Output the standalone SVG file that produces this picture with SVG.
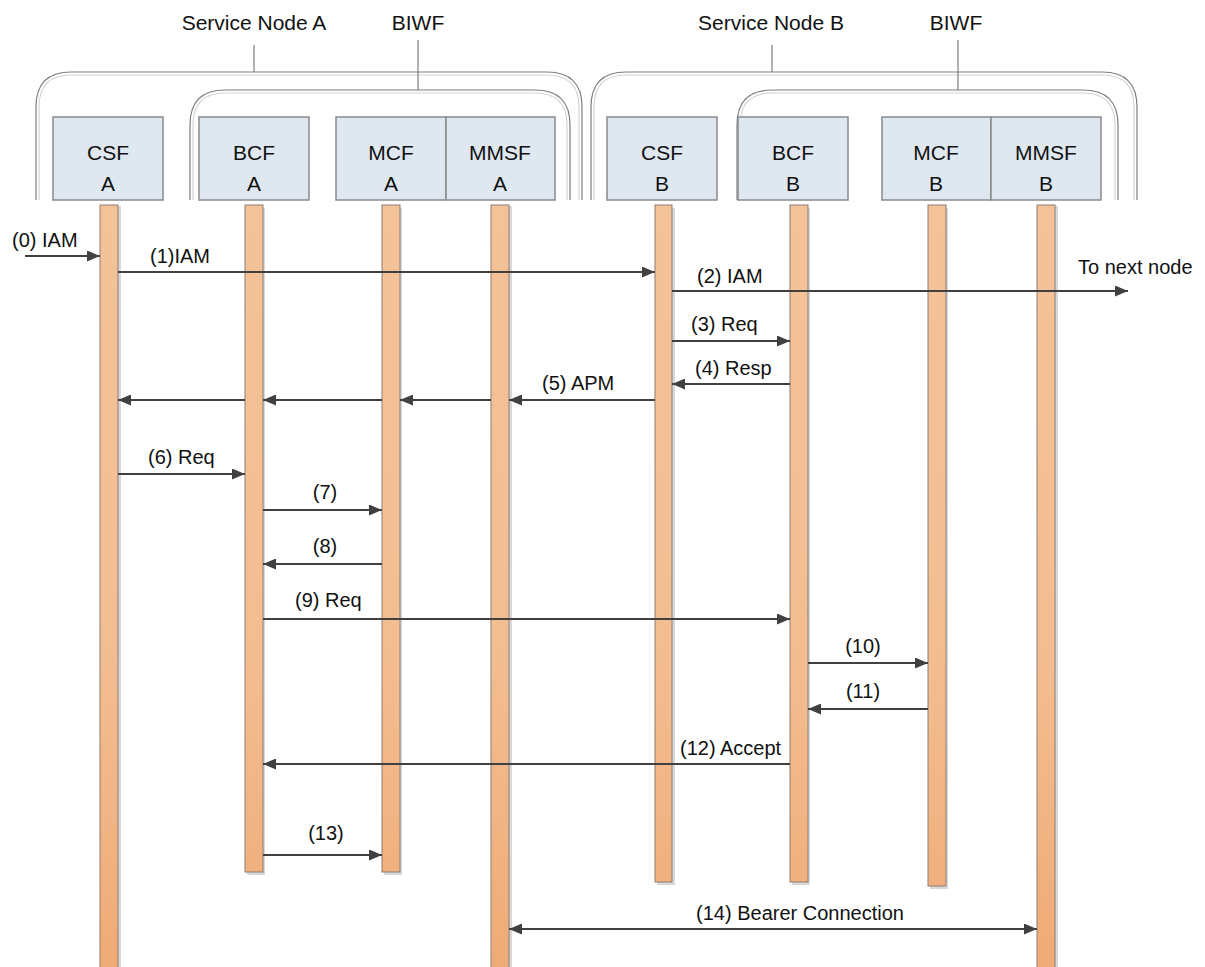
<svg xmlns="http://www.w3.org/2000/svg" width="1205" height="967" viewBox="0 0 1205 967">
<defs>
<style>
text{font-family:"Liberation Sans",Arial,sans-serif;font-size:20px;fill:#111;}
.c{text-anchor:middle;}
.bl{font-size:21px;}
.br{fill:none;stroke:#7f7f7f;stroke-width:1.2;}
.brs{fill:none;stroke:#d4d4d4;stroke-width:1.2;}
.box{fill:#dfe8f1;stroke:#8a8a8a;stroke-width:1.5;}
.life{fill:url(#lg);stroke:#8f7d70;stroke-width:1;}
.sh{fill:#d8d8d8;}
.msg{fill:none;stroke:#404040;stroke-width:2;}
</style>
<linearGradient id="lg" gradientUnits="userSpaceOnUse" x1="0" y1="205" x2="0" y2="967">
<stop offset="0" stop-color="#f4c299"/>
<stop offset="0.6" stop-color="#f3bd91"/>
<stop offset="1" stop-color="#efab76"/>
</linearGradient>
<marker id="ah" viewBox="0 0 13 11" refX="13" refY="5.5" markerWidth="13" markerHeight="11" markerUnits="userSpaceOnUse" orient="auto-start-reverse">
<path d="M0,0 L13,5.5 L0,11 z" fill="#404040"/>
</marker>
</defs>

<g id="brackets">
<g id="serviceNodeA">
<path class="br" d="M36,200 V107 Q36,72 71,72 H547 Q582,72 582,107 V200"/>
<path class="brs" d="M39,200 V107 Q39,75 71,75 H547 Q579,75 579,107 V200"/>
<line class="br" x1="254" y1="45" x2="254" y2="72"/>
<text class="c bl" x="254" y="30">Service Node A</text>
</g>
<g id="biwfA">
<path class="br" d="M190,200 V125 Q190,90 225,90 H535 Q570,90 570,125 V200"/>
<path class="brs" d="M193,200 V125 Q193,93 225,93 H535 Q567,93 567,125 V200"/>
<line class="br" x1="418" y1="40" x2="418" y2="90"/>
<text class="c bl" x="418" y="30">BIWF</text>
</g>
<g id="serviceNodeB">
<path class="br" d="M591,200 V107 Q591,72 626,72 H1102 Q1137,72 1137,107 V200"/>
<path class="brs" d="M594,200 V107 Q594,75 626,75 H1102 Q1134,75 1134,107 V200"/>
<line class="br" x1="772" y1="45" x2="772" y2="72"/>
<text class="c bl" x="771" y="30">Service Node B</text>
</g>
<g id="biwfB">
<path class="br" d="M737,200 V125 Q737,90 772,90 H1083 Q1118,90 1118,125 V200"/>
<path class="brs" d="M740,200 V125 Q740,93 772,93 H1083 Q1115,93 1115,125 V200"/>
<line class="br" x1="958" y1="40" x2="958" y2="90"/>
<text class="c bl" x="956" y="30">BIWF</text>
</g>
</g>

<g id="csfA">
<rect class="box" x="53" y="117" width="110" height="83"/>
<text class="c bl" x="108" y="160">CSF</text><text class="c bl" x="108" y="191">A</text>
<rect class="sh" x="118" y="206" width="3" height="761"/>
<rect class="life" x="100" y="205" width="18" height="770"/>
</g>
<g id="bcfA">
<rect class="box" x="199" y="117" width="110" height="83"/>
<text class="c bl" x="254" y="160">BCF</text><text class="c bl" x="254" y="191">A</text>
<rect class="sh" x="247" y="208" width="18" height="667"/>
<rect class="life" x="245" y="205" width="18" height="667"/>
</g>
<g id="mcfA">
<rect class="box" x="336" y="117" width="110" height="83"/>
<text class="c bl" x="391" y="160">MCF</text><text class="c bl" x="391" y="191">A</text>
<rect class="sh" x="384" y="208" width="18" height="667"/>
<rect class="life" x="382" y="205" width="18" height="667"/>
</g>
<g id="mmsfA">
<rect class="box" x="446" y="117" width="109" height="83"/>
<text class="c bl" x="500" y="160">MMSF</text><text class="c bl" x="500" y="191">A</text>
<rect class="sh" x="509" y="206" width="3" height="761"/>
<rect class="life" x="491" y="205" width="18" height="770"/>
</g>
<g id="csfB">
<rect class="box" x="607" y="117" width="110" height="83"/>
<text class="c bl" x="662" y="160">CSF</text><text class="c bl" x="662" y="191">B</text>
<rect class="sh" x="657" y="208" width="18" height="677"/>
<rect class="life" x="655" y="205" width="17" height="677"/>
</g>
<g id="bcfB">
<rect class="box" x="738" y="117" width="110" height="83"/>
<text class="c bl" x="793" y="160">BCF</text><text class="c bl" x="793" y="191">B</text>
<rect class="sh" x="792" y="208" width="18" height="677"/>
<rect class="life" x="790" y="205" width="18" height="677"/>
</g>
<g id="mcfB">
<rect class="box" x="882" y="117" width="109" height="83"/>
<text class="c bl" x="936" y="160">MCF</text><text class="c bl" x="936" y="191">B</text>
<rect class="sh" x="930" y="208" width="18" height="681"/>
<rect class="life" x="928" y="205" width="18" height="681"/>
</g>
<g id="mmsfB">
<rect class="box" x="991" y="117" width="110" height="83"/>
<text class="c bl" x="1046" y="160">MMSF</text><text class="c bl" x="1046" y="191">B</text>
<rect class="sh" x="1055" y="206" width="3" height="761"/>
<rect class="life" x="1037" y="205" width="18" height="770"/>
</g>

<g id="connectors">
<line class="msg" x1="25" y1="256" x2="100" y2="256" marker-end="url(#ah)"/>
<line class="msg" x1="118" y1="272" x2="655" y2="272" marker-end="url(#ah)"/>
<line class="msg" x1="672" y1="291" x2="1128" y2="291" marker-end="url(#ah)"/>
<line class="msg" x1="672" y1="341" x2="790" y2="341" marker-end="url(#ah)"/>
<line class="msg" x1="790" y1="384" x2="672" y2="384" marker-end="url(#ah)"/>
<line class="msg" x1="655" y1="400" x2="509" y2="400" marker-end="url(#ah)"/>
<line class="msg" x1="491" y1="400" x2="400" y2="400" marker-end="url(#ah)"/>
<line class="msg" x1="382" y1="400" x2="263" y2="400" marker-end="url(#ah)"/>
<line class="msg" x1="245" y1="400" x2="118" y2="400" marker-end="url(#ah)"/>
<line class="msg" x1="118" y1="474" x2="245" y2="474" marker-end="url(#ah)"/>
<line class="msg" x1="263" y1="510" x2="382" y2="510" marker-end="url(#ah)"/>
<line class="msg" x1="382" y1="564" x2="263" y2="564" marker-end="url(#ah)"/>
<line class="msg" x1="263" y1="619" x2="790" y2="619" marker-end="url(#ah)"/>
<line class="msg" x1="808" y1="663" x2="928" y2="663" marker-end="url(#ah)"/>
<line class="msg" x1="928" y1="709" x2="808" y2="709" marker-end="url(#ah)"/>
<line class="msg" x1="790" y1="764" x2="263" y2="764" marker-end="url(#ah)"/>
<line class="msg" x1="263" y1="855" x2="382" y2="855" marker-end="url(#ah)"/>
<line class="msg" x1="509" y1="929" x2="1037" y2="929" marker-start="url(#ah)" marker-end="url(#ah)"/>

<text x="12" y="247">(0) IAM</text>
<text x="150" y="263">(1)IAM</text>
<text x="697" y="283">(2) IAM</text>
<text x="1078" y="274">To next node</text>
<text x="691" y="331">(3) Req</text>
<text x="695" y="375">(4) Resp</text>
<text x="542" y="390">(5) APM</text>
<text x="148" y="464">(6) Req</text>
<text class="c" x="325" y="499">(7)</text>
<text class="c" x="325" y="553">(8)</text>
<text x="295" y="607">(9) Req</text>
<text class="c" x="863" y="653">(10)</text>
<text class="c" x="863" y="698">(11)</text>
<text x="680" y="755">(12) Accept</text>
<text class="c" x="326" y="840">(13)</text>
<text class="c" x="800" y="920">(14) Bearer Connection</text>
</g>
</svg>
